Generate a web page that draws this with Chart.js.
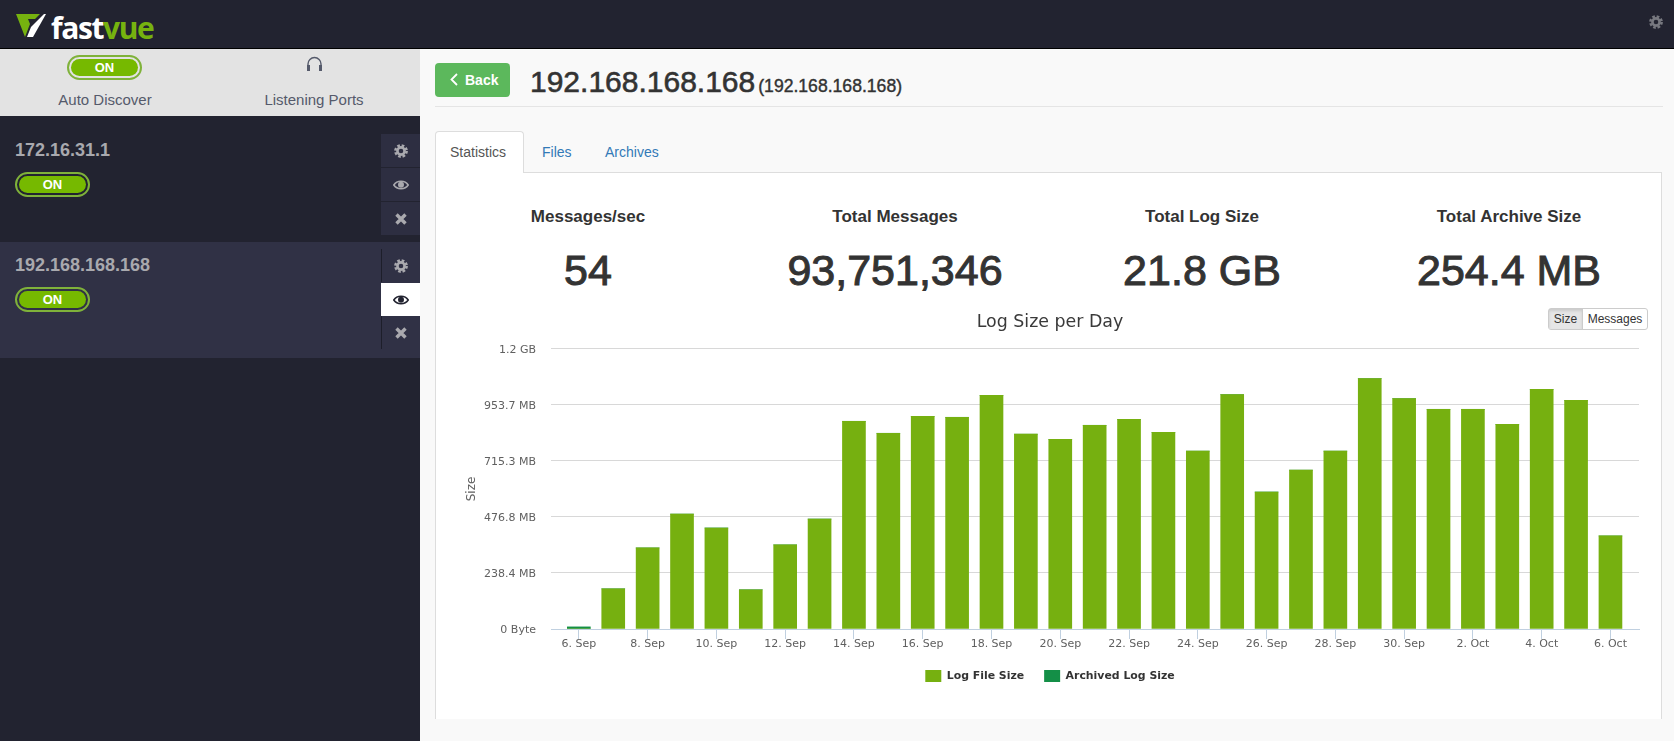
<!DOCTYPE html>
<html>
<head>
<meta charset="utf-8">
<title>Fastvue</title>
<script src="https://cdn.jsdelivr.net/npm/chart.js@4"></script>
<style>
  html, body { margin: 0; padding: 0; }
  body { width: 1674px; height: 741px; overflow: hidden; position: relative; background: #f9f9f9; font-family: "Liberation Sans", Arial, sans-serif; color: #333; }
  .abs { position: absolute; }
  .center { transform: translateX(-50%); white-space: nowrap; }
  #topbar { left: 0; top: 0; width: 1674px; height: 48px; background: #222330; border-bottom: 1px solid #000; }
  #sidebar { left: 0; top: 49px; width: 420px; height: 692px; background: #222330; }
  #sidetop { left: 0; top: 49px; width: 420px; height: 67px; background: #e3e3e3; }
  #row2 { left: 0; top: 242px; width: 420px; height: 116px; background: #303145; }
  .logo { left: 51px; top: 7px; font: 700 30px "Open Sans", sans-serif; letter-spacing: -1.4px; color: #fff; white-space: nowrap; }
  .logo span { color: #76b20f; }
  .toggle { width: 75px; height: 25px; box-sizing: border-box; border: 2px solid #7fb23a; border-radius: 13px; padding: 2px; }
  .toggle div { height: 17px; border-radius: 9px; background: #76b900; color: #fff; font: 700 13px/17px "Liberation Sans", sans-serif; text-align: center; }
  .sidelabel { font-size: 15px; color: #555a6b; }
  .ip { left: 15px; font: 700 18px "Liberation Sans", sans-serif; color: #a9a9ae; }
  .act { left: 381px; width: 39px; height: 33px; background: #2d2e41; display: flex; align-items: center; justify-content: center; }
  .act.sel { background: #fff; }
  .act.alt { background: #303145; box-shadow: inset 1px 0 0 #1d1e2a; }
  #back { left: 435px; top: 63px; width: 75px; height: 34px; background: #5cb85c; border-radius: 4px; color: #fff; font: 700 14px/34px "Liberation Sans", sans-serif; }
  #back span { position: absolute; left: 30px; top: 0; }
  #heading { left: 530px; top: 64px; font-size: 30px; line-height: 36px; white-space: nowrap; -webkit-text-stroke: 0.6px #333; }
  #heading small { font-size: 17.6px; margin-left: 3px; -webkit-text-stroke: 0.4px #333; }
  #rule { left: 435px; top: 106px; width: 1228px; height: 1px; background: #e5e5e5; }
  #panel { left: 435px; top: 172px; width: 1227px; height: 547px; box-sizing: border-box; background: #fff; border: 1px solid #ddd; border-bottom: 0; }
  #tab { left: 435px; top: 131px; width: 89px; height: 42px; box-sizing: border-box; background: #fff; border: 1px solid #ddd; border-bottom: 0; border-radius: 4px 4px 0 0; }
  .tablabel { top: 144px; font-size: 14px; line-height: 16px; color: #337ab7; }
  .stathead { top: 207px; font: 700 17px/20px "Liberation Sans", sans-serif; color: #333; }
  .statval { top: 245px; font-size: 43px; line-height: 50px; color: #333; -webkit-text-stroke: 1px #333; }
  #chart { position: absolute; left: 439px; top: 300px; }
  #btns { left: 1548px; top: 308px; width: 100px; height: 22px; box-sizing: border-box; border: 1px solid #ccc; border-radius: 3px; display: flex; font-size: 12px; line-height: 20px; text-align: center; background: #fff; }
  #btns div:first-child { width: 33px; background: #e6e6e6; border-right: 1px solid #ccc; box-shadow: inset 0 2px 3px rgba(0,0,0,.12); }
  #btns div:last-child { flex: 1; }
</style>
</head>
<body>
<svg width="0" height="0" style="position:absolute">
  <defs>
    <g id="gear">
      <circle cx="8" cy="8" r="5.6" fill="none" stroke="currentColor" stroke-width="2.6" stroke-dasharray="2.6 1.8"></circle>
      <circle cx="8" cy="8" r="3.6" fill="none" stroke="currentColor" stroke-width="2.6"></circle>
    </g>
    <g id="eye">
      <path d="M0.8 8 C4 3 12 3 15.2 8 C12 13 4 13 0.8 8 Z" fill="none" stroke="currentColor" stroke-width="1.6"></path>
      <circle cx="8" cy="7.8" r="3" fill="currentColor"></circle>
    </g>
    <g id="cross">
      <path d="M3.5 3.5 L12.5 12.5 M12.5 3.5 L3.5 12.5" stroke="currentColor" stroke-width="3.4" fill="none"></path>
    </g>
  </defs>
</svg>

<div class="abs" id="topbar"></div>
<div class="abs" id="sidebar"></div>
<div class="abs" id="sidetop"></div>
<div class="abs" id="row2"></div>

<svg class="abs" style="left:16px;top:14px" width="30" height="24" viewBox="0 0 30 24">
  <polygon points="0,0 24,0 19,5 12,5 14,10 9,23" fill="#76b20f"></polygon>
  <polygon points="28,0 30,0 17,23 11,23 15,13" fill="#fff"></polygon>
</svg>
<div class="abs logo">fast<span>vue</span></div>
<svg class="abs" style="left:1648px;top:14px;color:#77787f" width="16" height="16"><use href="#gear"></use></svg>

<div class="abs toggle" style="left:67px;top:55px"><div>ON</div></div>
<svg class="abs" style="left:306px;top:56px" width="17" height="16" viewBox="0 0 17 16">
  <path d="M2 14 V8 A6.5 6.5 0 0 1 15 8 V14" fill="none" stroke="#555a6b" stroke-width="1.4"></path>
  <rect x="1" y="9" width="3" height="6" fill="#555a6b"></rect>
  <rect x="13" y="9" width="3" height="6" fill="#555a6b"></rect>
</svg>
<div class="abs center sidelabel" style="left:105px;top:91px">Auto Discover</div>
<div class="abs center sidelabel" style="left:314px;top:91px">Listening Ports</div>

<div class="abs ip" style="top:140px">172.16.31.1</div>
<div class="abs toggle" style="left:15px;top:172px"><div>ON</div></div>
<div class="abs act" style="top:134px;color:#a9a9ae"><svg width="16" height="16"><use href="#gear"></use></svg></div>
<div class="abs act" style="top:168px;color:#a9a9ae"><svg width="16" height="16"><use href="#eye"></use></svg></div>
<div class="abs act" style="top:202px;color:#a9a9ae"><svg width="16" height="16"><use href="#cross"></use></svg></div>

<div class="abs ip" style="top:255px">192.168.168.168</div>
<div class="abs toggle" style="left:15px;top:287px"><div>ON</div></div>
<div class="abs act alt" style="top:249px;color:#a9a9ae"><svg width="16" height="16"><use href="#gear"></use></svg></div>
<div class="abs act sel" style="top:283px;color:#222330"><svg width="16" height="16"><use href="#eye"></use></svg></div>
<div class="abs act alt" style="top:316px;color:#a9a9ae"><svg width="16" height="16"><use href="#cross"></use></svg></div>

<div class="abs" id="back">
  <svg class="abs" style="left:14px;top:10px" width="10" height="14"><path d="M8 1 L2.5 6.5 L8 12" fill="none" stroke="#fff" stroke-width="1.8"></path></svg>
  <span>Back</span>
</div>
<div class="abs" id="heading">192.168.168.168<small>(192.168.168.168)</small></div>
<div class="abs" id="rule"></div>

<div class="abs" id="panel"></div>
<div class="abs" id="tab"></div>
<div class="abs tablabel" style="left:450px;color:#555">Statistics</div>
<div class="abs tablabel" style="left:542px">Files</div>
<div class="abs tablabel" style="left:605px">Archives</div>

<div class="abs center stathead" style="left:588px">Messages/sec</div>
<div class="abs center statval" style="left:588px">54</div>
<div class="abs center stathead" style="left:895px">Total Messages</div>
<div class="abs center statval" style="left:895px">93,751,346</div>
<div class="abs center stathead" style="left:1202px">Total Log Size</div>
<div class="abs center statval" style="left:1202px">21.8 GB</div>
<div class="abs center stathead" style="left:1509px">Total Archive Size</div>
<div class="abs center statval" style="left:1509px">254.4 MB</div>

<canvas id="chart" width="1220" height="419"></canvas>
<div class="abs" id="btns"><div>Size</div><div>Messages</div></div>

<script>
const days = ["6. Sep", "7. Sep", "8. Sep", "9. Sep", "10. Sep", "11. Sep", "12. Sep", "13. Sep", "14. Sep", "15. Sep",
    "16. Sep", "17. Sep", "18. Sep", "19. Sep", "20. Sep", "21. Sep", "22. Sep", "23. Sep", "24. Sep", "25. Sep",
    "26. Sep", "27. Sep", "28. Sep", "29. Sep", "30. Sep", "1. Oct", "2. Oct", "3. Oct", "4. Oct", "5. Oct", "6. Oct"];

// sizes in MB
const logFileSize = [0, 171, 345, 489, 430, 167, 358, 468, 884, 833, 905, 901, 994, 829, 807, 867, 892, 837, 757, 998,
    583, 676, 757, 1066, 981, 935, 935, 871, 1020, 973, 396];
const archivedLogSize = [9, 0, 0, 0, 0, 0, 0, 0, 0, 0, 0, 0, 0, 0, 0, 0, 0, 0, 0, 0, 0, 0, 0, 0, 0, 0, 0, 0, 0, 0, 0];

const yTicks = [0, 238.4, 476.8, 715.3, 953.7, 1192.1];
const yTickLabels = ["0 Byte", "238.4 MB", "476.8 MB", "715.3 MB", "953.7 MB", "1.2 GB"];

const labelFont = '"DejaVu Sans", sans-serif';

function points(values) {
    return values.map((v, i) => ({ x: i, y: v }));
}

new Chart(document.getElementById("chart"), {
    type: "bar",
    data: {
        datasets: [
            { label: "Log File Size", data: points(logFileSize), backgroundColor: "#76b010", barThickness: 23 },
            { label: "Archived Log Size", data: points(archivedLogSize), backgroundColor: "#148f47", barThickness: 23 }
        ]
    },
    options: {
        responsive: false,
        animation: false,
        layout: { padding: { left: 22, right: 20, top: 12, bottom: 27 } },
        plugins: {
            tooltip: { enabled: false },
            title: {
                display: true,
                text: "Log Size per Day",
                color: "#3a3a3a",
                font: { family: labelFont, size: 17.4, weight: "normal" },
                padding: { top: 0, bottom: 16 }
            },
            legend: {
                position: "bottom",
                labels: {
                    boxWidth: 16,
                    boxHeight: 12,
                    padding: 20,
                    color: "#333",
                    font: { family: labelFont, size: 10.9, weight: "bold" }
                }
            }
        },
        scales: {
            x: {
                type: "linear",
                stacked: true,
                offset: false,
                min: -0.81,
                max: 30.83,
                afterBuildTicks: axis => {
                    axis.ticks = days.map((d, i) => ({ value: i })).filter(t => t.value % 2 === 0);
                },
                afterFit: axis => { axis.height = 21; },
                grid: { offset: false, drawOnChartArea: false, tickLength: 10, tickColor: "#c0d0e0" },
                border: { color: "#c0d0e0" },
                ticks: {
                    autoSkip: false,
                    maxRotation: 0,
                    color: "#606060",
                    padding: -1,
                    font: { family: labelFont, size: 11 },
                    callback: v => days[v]
                }
            },
            y: {
                stacked: true,
                min: 0,
                max: 1192.1,
                afterBuildTicks: axis => {
                    axis.ticks = yTicks.map(v => ({ value: v }));
                },
                afterFit: axis => { axis.width = 90; },
                grid: { color: "#d8d8d8", drawTicks: false },
                border: { display: false },
                title: {
                    display: true,
                    text: "Size",
                    color: "#606060",
                    font: { family: labelFont, size: 12 },
                    padding: { top: 4, bottom: 0 }
                },
                ticks: {
                    color: "#606060",
                    padding: 15,
                    labelOffset: 1,
                    font: { family: labelFont, size: 11 },
                    callback: v => yTickLabels[yTicks.indexOf(v)]
                }
            }
        }
    }
});
</script>
</body>
</html>
